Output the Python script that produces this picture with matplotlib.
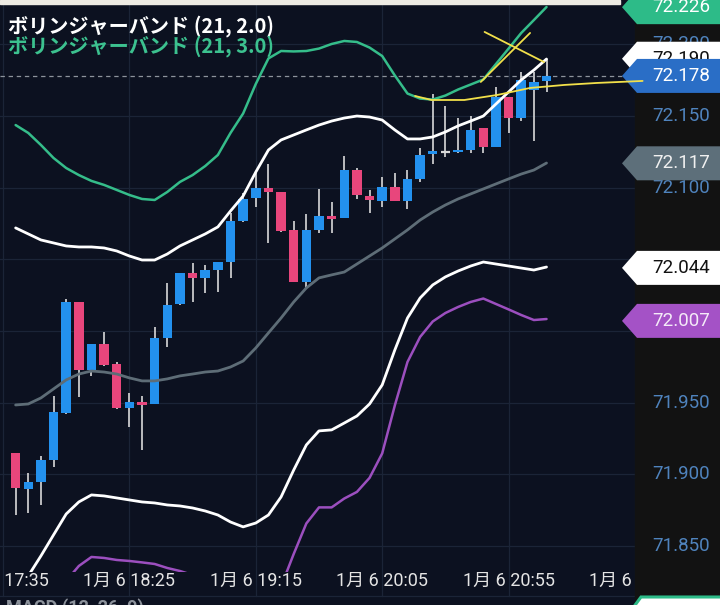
import numpy as np
import matplotlib.pyplot as plt
from matplotlib.patches import Rectangle, Polygon

# 5-minute bars, index 0 = 1月6日 17:35 (bars 1..43 are visible)
bar_idx = list(range(1, 44))
opens = [71.9148, 71.8897, 71.8946, 71.9099, 71.9427, 72.0202, 71.9727, 71.9909, 71.9769, 71.9462,
         71.9504, 71.9490, 71.9951, 72.0188, 72.0404, 72.0370, 72.0425, 72.0481, 72.0767, 72.0928,
         72.0998, 72.0970, 72.0705, 72.0342, 72.0705, 72.0802, 72.0788, 72.1123, 72.0942, 72.0907,
         72.1005, 72.0907, 72.1061, 72.1235, 72.1249, 72.1249, 72.1263, 72.1417, 72.1284, 72.1633,
         72.1486, 72.1682, 72.1745]
highs = [71.9148, 71.9008, 71.9127, 71.9546, 72.0223, 72.0202, 71.9909, 71.9993, 71.9783, 71.9567,
         71.9546, 72.0028, 72.0335, 72.0404, 72.0474, 72.0460, 72.0481, 72.0823, 72.0963, 72.1102,
         72.1165, 72.0970, 72.0767, 72.0816, 72.0991, 72.0900, 72.1221, 72.1137, 72.0984, 72.1075,
         72.1102, 72.1123, 72.1277, 72.1654, 72.1570, 72.1486, 72.1500, 72.1417, 72.1703, 72.1633,
         72.1807, 72.1807, 72.1898]
lows = [71.8715, 71.8729, 71.8785, 71.9050, 71.9420, 71.9539, 71.9686, 71.9755, 71.9455, 71.9330,
        71.9169, 71.9490, 71.9888, 72.0181, 72.0202, 72.0265, 72.0272, 72.0370, 72.0760, 72.0865,
        72.0614, 72.0691, 72.0342, 72.0300, 72.0684, 72.0684, 72.0788, 72.0921, 72.0823, 72.0865,
        72.0907, 72.0851, 72.1040, 72.1165, 72.1214, 72.1242, 72.1242, 72.1242, 72.1284, 72.1382,
        72.1465, 72.1326, 72.1668]
closes = [71.8904, 71.8946, 71.9099, 71.9434, 72.0202, 71.9727, 71.9909, 71.9762, 71.9462, 71.9504,
          71.9483, 71.9951, 72.0181, 72.0404, 72.0370, 72.0425, 72.0481, 72.0767, 72.0921, 72.0998,
          72.0970, 72.0698, 72.0342, 72.0705, 72.0802, 72.0781, 72.1123, 72.0949, 72.0914, 72.1005,
          72.0907, 72.1061, 72.1228, 72.1256, 72.1249, 72.1263, 72.1403, 72.1284, 72.1633, 72.1486,
          72.1752, 72.1738, 72.1780]

# Bollinger bands (21): middle, +-2.0 sigma, +-3.0 sigma
bb_mid = [71.9483, 71.9490, 71.9532, 71.9595, 71.9658, 71.9699, 71.9720, 71.9713, 71.9699, 71.9672,
          71.9651, 71.9651, 71.9665, 71.9686, 71.9699, 71.9713, 71.9720, 71.9748, 71.9790, 71.9881,
          71.9986, 72.0090, 72.0202, 72.0300, 72.0370, 72.0391, 72.0411, 72.0467, 72.0523, 72.0579,
          72.0642, 72.0705, 72.0774, 72.0830, 72.0879, 72.0921, 72.0956, 72.0991, 72.1026, 72.1061,
          72.1095, 72.1123, 72.1172]
bb_up2 = [72.0719, 72.0677, 72.0635, 72.0614, 72.0593, 72.0586, 72.0586, 72.0579, 72.0558, 72.0523,
          72.0495, 72.0495, 72.0537, 72.0593, 72.0635, 72.0677, 72.0726, 72.0837, 72.0942, 72.1109,
          72.1263, 72.1333, 72.1368, 72.1403, 72.1437, 72.1465, 72.1486, 72.1500, 72.1493, 72.1472,
          72.1403, 72.1340, 72.1340, 72.1354, 72.1389, 72.1431, 72.1465, 72.1500, 72.1584, 72.1668,
          72.1752, 72.1821, 72.1898]
bb_lo2 = [71.8234, 71.8290, 71.8429, 71.8576, 71.8722, 71.8806, 71.8855, 71.8848, 71.8834, 71.8820,
          71.8806, 71.8799, 71.8785, 71.8778, 71.8764, 71.8743, 71.8715, 71.8666, 71.8632, 71.8659,
          71.8715, 71.8841, 71.9029, 71.9204, 71.9302, 71.9309, 71.9357, 71.9406, 71.9490, 71.9623,
          71.9867, 72.0090, 72.0230, 72.0321, 72.0377, 72.0418, 72.0453, 72.0481, 72.0467, 72.0453,
          72.0439, 72.0425, 72.0446]
bb_up3 = [72.1437, 72.1382, 72.1298, 72.1207, 72.1137, 72.1088, 72.1047, 72.1019, 72.0984, 72.0949,
          72.0921, 72.0914, 72.0970, 72.1040, 72.1088, 72.1151, 72.1228, 72.1382, 72.1518, 72.1724,
          72.1902, 72.1954, 72.1951, 72.1954, 72.1971, 72.2003, 72.2024, 72.2017, 72.1978, 72.1919,
          72.1783, 72.1657, 72.1622, 72.1615, 72.1643, 72.1685, 72.1720, 72.1755, 72.1863, 72.1971,
          72.2080, 72.2170, 72.2261]
bb_lo3 = [71.7609, 71.7689, 71.7878, 71.8066, 71.8255, 71.8359, 71.8422, 71.8415, 71.8401, 71.8394,
          71.8384, 71.8373, 71.8345, 71.8324, 71.8296, 71.8258, 71.8213, 71.8125, 71.8052, 71.8049,
          71.8080, 71.8216, 71.8443, 71.8656, 71.8768, 71.8768, 71.8830, 71.8876, 71.8974, 71.9145,
          71.9480, 71.9783, 71.9958, 72.0066, 72.0125, 72.0167, 72.0202, 72.0226, 72.0188, 72.0150,
          72.0111, 72.0076, 72.0083]

tick_idx = [0, 10, 20, 30, 40, 50]
tick_labels = ['1月 6 17:35', '1月 6 18:25', '1月 6 19:15', '1月 6 20:05', '1月 6 20:55', '1月 6 21:45']
price_ticks = [71.85, 71.90, 71.95, 72.00, 72.05, 72.10, 72.15, 72.20]
# tick labels that stay readable on the price scale (the rest sit under badges)
price_labels = [71.85, 71.90, 71.95, 72.10, 72.15, 72.20]
last_price = 72.178

# right-hand value badges: value, fill, text colour (drawn in this order)
badge_vals = [72.226, 72.190, 72.178, 72.117, 72.044, 72.007]
badge_fill = ['#2dbb88', '#ffffff', '#2a6ec6', '#5d6f7a', '#ffffff', '#a452c6']
badge_text = ['#ffffff', '#111111', '#ffffff', '#f0f0f0', '#111111', '#f4eaf8']

# hand-drawn yellow marks (bar index, price)
arc_idx = [32.6, 33.9, 36.5, 39.1, 41.7, 44.4, 47.0, 50.6]
arc_price = [72.1640, 72.1612, 72.1612, 72.1647, 72.1696, 72.1717, 72.1731, 72.1745]
stroke_a_idx = [38.1, 42.8]
stroke_a_price = [72.2087, 72.1877]
stroke_b_idx = [37.8, 41.7]
stroke_b_price = [72.1738, 72.2080]

NAVY = '#0c1120'
PANEL = '#121212'
GRID = '#1b2437'
BLUE = '#2391ee'
PINK = '#e8467c'
WICK = '#d9d9d9'
YELLOW = '#f2e04a'
W, H = 720, 605
PLOT_R, PLOT_B = 635, 572

fig = plt.figure(figsize=(W / 100, H / 100), dpi=100)
fig.patch.set_facecolor(NAVY)

ax = fig.add_axes([0, 1 - PLOT_B / H, PLOT_R / W, PLOT_B / H])
ax.set_facecolor(NAVY)
ax.set_xlim(-0.236, 49.76)
ax.set_ylim(71.8317, 72.2310)
for s in ax.spines.values():
    s.set_visible(False)
ax.set_xticks(tick_idx)
ax.set_yticks(price_ticks)
ax.tick_params(length=0, labelbottom=False, labelleft=False)
ax.grid(True, color=GRID, lw=0.9)

# candles
for i, o, h, l, c in zip(bar_idx, opens, highs, lows, closes):
    ax.vlines(i, l, h, color=WICK, lw=1.2, zorder=3)
    if abs(c - o) < 1e-6:
        ax.hlines(o, i - 0.37, i + 0.37, color=WICK, lw=1.6, zorder=4)
        continue
    col = BLUE if c > o else PINK
    ax.bar(i, max(abs(c - o), 0.0012), bottom=min(o, c), width=0.75,
           color=col, zorder=4, linewidth=0)

ax.axhline(last_price, color='#8d939c', lw=0.9, ls=(0, (3.5, 3)), zorder=2)

line_kw = dict(solid_joinstyle='round', solid_capstyle='round', zorder=5)
ax.plot(bar_idx, bb_mid, color='#5e6d77', lw=2.0, **line_kw)
ax.plot(bar_idx, bb_up2, color='#ffffff', lw=2.0, **line_kw)
ax.plot(bar_idx, bb_lo2, color='#ffffff', lw=2.0, **line_kw)
ax.plot(bar_idx, bb_up3, color='#35bd8a', lw=1.8, **line_kw)
ax.plot(bar_idx, bb_lo3, color='#9c4fbf', lw=1.8, **line_kw)


def to_px(x, y):
    dx, dy = ax.transData.transform((x, y))
    return dx, H - dy


# overlay in pixel coordinates for the axis strip and badges
ov = fig.add_axes([0, 0, 1, 1], zorder=5)
ov.set_xlim(0, W)
ov.set_ylim(H, 0)
ov.axis('off')
ov.patch.set_alpha(0)

ov.add_patch(Rectangle((0, 0), 620, 4, color='#eeebe3', zorder=1))

cjk = ['Roboto', 'Noto Sans CJK JP']
for t, lab in zip(tick_idx, tick_labels):
    x, _ = to_px(t, 72.0)
    ov.plot([x, x], [PLOT_B, 596], color=GRID, lw=0.9, zorder=0.4)
    ov.text(x, 581, lab, ha='center', va='center', color='#e4e4e4',
            fontsize=13, family=cjk, zorder=0.5)
ov.plot([0, PLOT_R], [596, 596], color=GRID, lw=0.9, zorder=0.4)
ov.text(6, 598, 'MACD (12, 26, 9)', ha='left', va='top', color='#8c929b',
        fontsize=13, weight='bold', family=cjk, zorder=0.5)

# right price panel
ov.add_patch(Rectangle((PLOT_R, 0), W - PLOT_R, H, color=PANEL, zorder=1))
for p in price_labels:
    _, y = to_px(0, p)
    ov.text(710, y, f'{p:.3f}', ha='right', va='center', color='#4f83bd',
            fontsize=13.5, family='Roboto', zorder=2)

bh = 34
for k, (v, fc, tc) in enumerate(zip(badge_vals, badge_fill, badge_text)):
    _, y = to_px(0, v)
    pts = [(622, y), (637, y - bh / 2), (W + 2, y - bh / 2), (W + 2, y + bh / 2), (637, y + bh / 2)]
    ov.add_patch(Polygon(pts, closed=True, facecolor=fc, edgecolor='none', zorder=3 + k * 0.1))
    ov.text(710, y, f'{v:.3f}', ha='right', va='center', color=tc,
            fontsize=13.5, family='Roboto', zorder=3.05 + k * 0.1)

# MACD panel badge peeking in at the bottom
ov.add_patch(Polygon([(630, 612), (641, 597), (W + 2, 597), (W + 2, 612)], closed=True,
                     facecolor='#ffffff', edgecolor='#2dbb88', lw=2.2, zorder=3))

# hand-drawn yellow marks
for xs, ys in [(arc_idx, arc_price), (stroke_a_idx, stroke_a_price), (stroke_b_idx, stroke_b_price)]:
    pts = np.array([to_px(a, b) for a, b in zip(xs, ys)])
    ov.plot(pts[:, 0], pts[:, 1], color=YELLOW, lw=1.3, zorder=10, solid_capstyle='round')

# indicator captions
ov.text(8, 26, 'ボリンジャーバンド (21, 2.0)', ha='left', va='center', color='#ffffff',
        fontsize=14.5, weight='bold', family=['Noto Sans CJK JP'], zorder=6)
ov.text(8, 46, 'ボリンジャーバンド (21, 3.0)', ha='left', va='center', color='#3cc18f',
        fontsize=14.5, weight='bold', family=['Noto Sans CJK JP'], zorder=6)

fig.savefig('out.png', dpi=100, facecolor=NAVY)
